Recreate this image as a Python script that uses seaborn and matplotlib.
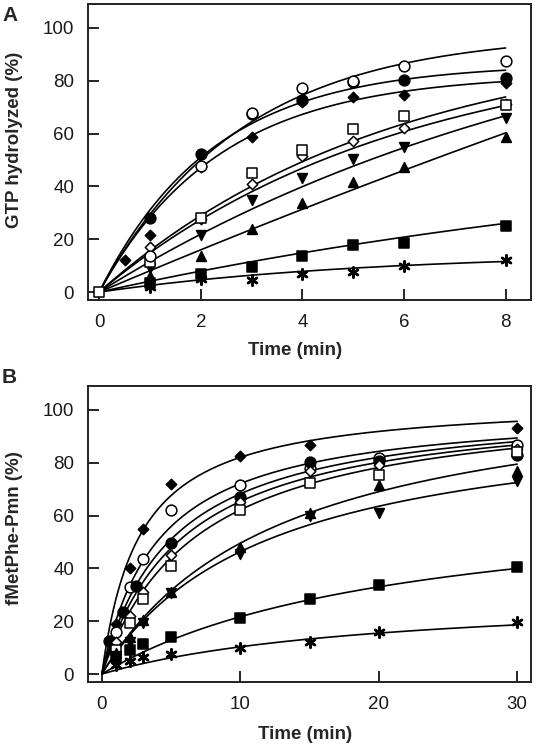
import numpy as np
import pandas as pd
import seaborn as sns
import matplotlib
matplotlib.use("Agg")
import matplotlib.pyplot as plt

# ---- panel A : GTP hydrolysis ----
# drawing order: hidden points first, open circle / square on top
a_labels = ["filled_circle", "filled_diamond", "open_diamond", "down_tri",
            "up_tri", "filled_square", "asterisk", "open_square", "open_circle"]
a_times = {
    "filled_circle":  [1, 2, 3, 4, 5, 6, 8],
    "filled_diamond": [0.5, 1, 2, 3, 4, 5, 6, 8],
    "open_diamond":   [1, 2, 3, 4, 5, 6, 8],
    "down_tri":       [1, 2, 3, 4, 5, 6, 8],
    "up_tri":         [1, 2, 3, 4, 5, 6, 8],
    "filled_square":  [1, 2, 3, 4, 5, 6, 8],
    "asterisk":       [1, 2, 3, 4, 5, 6, 8],
    "open_square":    [0, 1, 2, 3, 4, 5, 6, 8],
    "open_circle":    [1, 2, 3, 4, 5, 6, 8],
}
a_values = {
    "filled_circle":  [28.2, 52.3, 67.5, 72.5, 79.5, 80.4, 81.0],
    "filled_diamond": [12.0, 21.5, 47.5, 58.8, 72.1, 74.0, 74.7, 79.0],
    "open_diamond":   [17.0, 27.5, 40.8, 51.3, 57.0, 62.0, 71.0],
    "down_tri":       [9.0, 21.5, 34.8, 43.0, 50.3, 55.0, 65.8],
    "up_tri":         [6.0, 13.5, 23.7, 33.6, 41.8, 47.5, 58.8],
    "filled_square":  [3.3, 7.0, 9.5, 13.5, 17.7, 18.4, 25.0],
    "asterisk":       [2.0, 5.0, 4.4, 7.0, 7.6, 9.8, 12.0],
    "open_square":    [0.0, 11.4, 27.9, 45.0, 53.8, 61.6, 66.7, 70.9],
    "open_circle":    [13.5, 47.8, 67.7, 77.2, 80.0, 85.7, 87.3],
}
# single-exponential fits y = amp * (1 - exp(-k t))
a_amp = [86.4, 82.5, 95, 122, 400, 60, 15, 98, 98]
a_rate = [0.446, 0.422, 0.17, 0.099, 0.0204, 0.071, 0.185, 0.175, 0.357]

# ---- panel B : fMetPhe-Pmn formation ----
b_times = {
    "filled_diamond": [1, 2, 3, 5, 10, 15, 30],
    "open_circle":    [1, 2, 3, 5, 10, 15, 20, 30],
    "filled_circle":  [0.5, 1.5, 2.5, 5, 10, 15, 20, 30],
    "open_diamond":   [1, 2, 3, 5, 10, 15, 20, 30],
    "open_square":    [1, 2, 3, 5, 10, 15, 20, 30],
    "up_tri":         [1, 2, 3, 5, 10, 15, 20, 30],
    "down_tri":       [1, 2, 3, 5, 10, 15, 20, 30],
    "filled_square":  [1, 2, 3, 5, 10, 15, 20, 30],
    "asterisk":       [1, 2, 3, 5, 10, 15, 20, 30],
}
b_values = {
    "filled_diamond": [19.0, 40.0, 55.0, 72.0, 82.6, 86.7, 93.0],
    "open_circle":    [16.0, 33.0, 43.6, 62.0, 71.6, 78.0, 81.7, 86.7],
    "filled_circle":  [12.6, 23.4, 33.3, 49.7, 67.0, 80.4, 80.5, 83.0],
    "open_diamond":   [12.0, 22.0, 31.0, 45.0, 65.0, 77.0, 79.0, 85.0],
    "open_square":    [9.0, 19.5, 28.5, 41.0, 62.1, 72.2, 75.4, 84.0],
    "up_tri":         [8.0, 14.0, 20.5, 31.0, 48.0, 61.0, 71.6, 77.0],
    "down_tri":       [7.0, 12.0, 19.5, 30.5, 45.5, 60.0, 61.1, 73.0],
    "filled_square":  [6.6, 9.0, 11.5, 14.0, 21.1, 28.3, 33.7, 40.4],
    "asterisk":       [3.5, 5.0, 6.6, 7.6, 9.7, 12.2, 16.0, 19.6],
}
b_labels = list(b_times.keys())
# hyperbolic fits y = amp * t / (K + t)
b_amp = [104.3, 101.5, 102.9, 103.7, 105.4, 113.8, 101.1, 69.1, 31.2]
b_half = [2.72, 4.09, 5.09, 5.88, 6.97, 12.98, 11.84, 21.86, 20.25]

styles = {
    "open_circle":    dict(marker="o", fc="white", s=60),
    "filled_circle":  dict(marker="o", fc="black", s=60),
    "filled_diamond": dict(marker="D", fc="black", s=28),
    "open_square":    dict(marker="s", fc="white", s=55),
    "open_diamond":   dict(marker="D", fc="white", s=28),
    "down_tri":       dict(marker="v", fc="black", s=50),
    "up_tri":         dict(marker="^", fc="black", s=50),
    "filled_square":  dict(marker="s", fc="black", s=55),
    "asterisk":       dict(marker=(6, 2, 0), fc="black", s=55),
}

sns.set_style("white")
plt.rcParams["font.family"] = ["Liberation Sans", "DejaVu Sans"]

fig = plt.figure(figsize=(5.37, 7.47), dpi=100)
axA = fig.add_axes([88 / 537, 1 - 300 / 747, 443 / 537, 296 / 747])
axB = fig.add_axes([88 / 537, 1 - 682 / 747, 443 / 537, 296 / 747])


def draw_points(ax, name, t, y):
    st = styles[name]
    df = pd.DataFrame({"t": t, "y": y})
    if st["marker"] == (6, 2, 0):
        sns.scatterplot(data=df, x="t", y="y", ax=ax, marker=st["marker"],
                        s=st["s"], color="black", linewidth=1.8, zorder=3)
    else:
        sns.scatterplot(data=df, x="t", y="y", ax=ax, marker=st["marker"],
                        s=st["s"], facecolor=st["fc"], edgecolor="black",
                        linewidth=1.1, zorder=3)


tfa = np.linspace(0, 8, 200)
for name, amp, k in zip(a_labels, a_amp, a_rate):
    sns.lineplot(x=tfa, y=amp * (1 - np.exp(-k * tfa)), ax=axA, color="black", lw=1.2)
    draw_points(axA, name, a_times[name], a_values[name])

tfb = np.linspace(0, 30, 300)
for name, amp, kh in zip(b_labels, b_amp, b_half):
    sns.lineplot(x=tfb, y=amp * tfb / (kh + tfb), ax=axB, color="black", lw=1.2)
    draw_points(axB, name, b_times[name], b_values[name])

for ax in (axA, axB):
    ax.set_ylim(-3, 109)
    ax.set_yticks([0, 20, 40, 60, 80, 100])
    ax.tick_params(direction="in", length=8, width=1.2, labelsize=13.5, pad=10,
                   left=True, bottom=True, top=False, right=False, colors="black",
                   labelcolor="#1a1a1a")
    for sp in ax.spines.values():
        sp.set_linewidth(1.4)
        sp.set_color("#222222")

axA.set_xlim(-0.22, 8.5)
axA.set_xticks([0, 2, 4, 6, 8])
axB.set_xlim(-1.0, 31.0)
axB.set_xticks([0, 10, 20, 30])

lab = dict(fontsize=13.5, fontweight="bold")
axA.set_xlabel("Time (min)", **lab)
axA.set_ylabel("GTP hydrolyzed (%)", **lab)
axB.set_xlabel("Time (min)", **lab)
axB.set_ylabel("fMetPhe-Pmn (%)", **lab)
axA.xaxis.set_label_coords(0.467, -0.143)
axA.yaxis.set_label_coords(-0.147, 0.54)
axB.xaxis.set_label_coords(0.49, -0.15)
axB.yaxis.set_label_coords(-0.147, 0.52)

fig.text(2 / 537, 1 - 6 / 747, "A", fontsize=15, fontweight="bold", va="top", ha="left")
fig.text(2 / 537, 1 - 368 / 747, "B", fontsize=15, fontweight="bold", va="top", ha="left")

fig.savefig("out.png", dpi=100)
